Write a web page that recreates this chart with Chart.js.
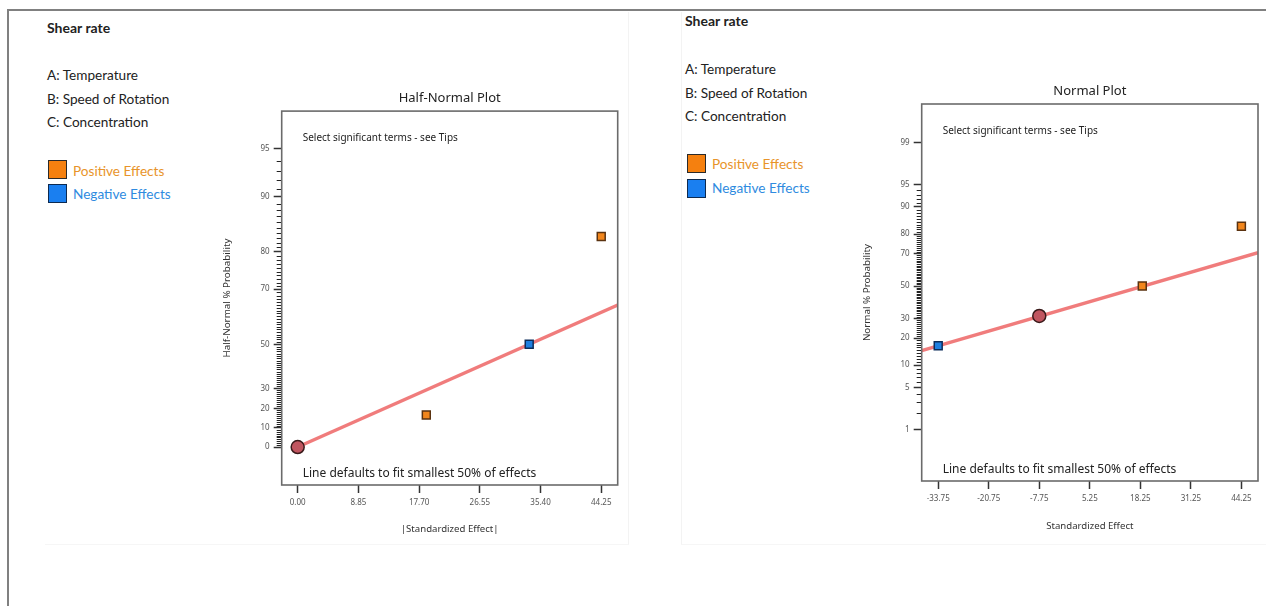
<!DOCTYPE html>
<html>
<head>
<meta charset="utf-8">
<script src="https://cdn.jsdelivr.net/npm/chart.js@4/dist/chart.umd.min.js"></script>
<style>
  body { margin: 0; background: #fff; width: 1266px; height: 606px; position: relative; overflow: hidden; font-family: Lato, "Noto Sans", sans-serif; color: #222; }
  .frameTop { position: absolute; left: 7px; top: 9px; width: 1259px; height: 2px; background: #808080; }
  .frameLeft { position: absolute; left: 7px; top: 9px; width: 2px; height: 597px; background: #808080; }
  .panel { position: absolute; border-right: 1px solid #f3f3f3; border-bottom: 1px solid #f6f6f6; }
  .txt { position: absolute; font-size: 13.6px; white-space: nowrap; line-height: 16px; }
  .bold { font-weight: bold; font-size: 14px; }
  .sw { position: absolute; width: 17px; height: 17px; border: 1.5px solid #2a2a2a; }
  canvas { position: absolute; }
</style>
</head>
<body>
<div class="frameTop"></div>
<div class="frameLeft"></div>
<div class="panel" style="left:45px; top:12px; width:583px; height:532px;"></div>
<div class="panel" style="left:681px; top:12px; width:584px; height:532px; border-left:1px solid #f3f3f3;"></div>

<div class="txt bold" style="left:47px; top:20px;">Shear rate</div>
<div class="txt" style="left:47px; top:67px;">A: Temperature</div>
<div class="txt" style="left:47px; top:91px;">B: Speed of Rotation</div>
<div class="txt" style="left:47px; top:114px;">C: Concentration</div>
<div class="sw" style="left:48px; top:160px; background:#f5800f;"></div>
<div class="sw" style="left:48px; top:184px; background:#1a7ff0; border-color:#0d2a50;"></div>
<div class="txt" style="left:73px; top:163px; color:#e8942a;">Positive Effects</div>
<div class="txt" style="left:73px; top:186px; color:#2f8be0;">Negative Effects</div>

<div class="txt bold" style="left:685px; top:13px;">Shear rate</div>
<div class="txt" style="left:685px; top:61px;">A: Temperature</div>
<div class="txt" style="left:685px; top:85px;">B: Speed of Rotation</div>
<div class="txt" style="left:685px; top:108px;">C: Concentration</div>
<div class="sw" style="left:687px; top:154px; background:#f5800f;"></div>
<div class="sw" style="left:687px; top:179px; background:#1a7ff0; border-color:#0d2a50;"></div>
<div class="txt" style="left:712px; top:156px; color:#e8942a;">Positive Effects</div>
<div class="txt" style="left:712px; top:180px; color:#2f8be0;">Negative Effects</div>

<canvas id="half" width="440" height="470" style="left:200px; top:80px;"></canvas>
<canvas id="normal" width="426" height="470" style="left:840px; top:80px;"></canvas>

<script>
// half-normal plot
const halfEffect = [18.75, 33.75, 44.25];
const halfProb = [16.67, 50, 83.33];
const halfSign = ['+', '-', '+'];
const halfAnchorX = [0];
const halfAnchorP = [0];
const halfLineX = [0, 46.65];
const halfLineP = [0, 64.9];
const halfYTicks = [0, 10, 20, 30, 50, 70, 80, 90, 95];
const halfXTicks = [0, 8.85, 17.70, 26.55, 35.40, 44.25];

// normal plot
const normalEffect = [-33.75, 18.75, 44.25];
const normalProb = [16.67, 50, 83.33];
const normalSign = ['-', '+', '+'];
const normalAnchorX = [-7.75];
const normalAnchorP = [31.4];
const normalLineX = [-38.0, 48.52];
const normalLineP = [14.76, 70.5];
const normalYTicks = [1, 5, 10, 20, 30, 50, 70, 80, 90, 95, 99];
const normalXTicks = [-33.75, -20.75, -7.75, 5.25, 18.25, 31.25, 44.25];

const tipText = 'Select significant terms - see Tips';
const noteText = 'Line defaults to fit smallest 50% of effects';

function qnorm(p) {
  const a = [-3.969683028665376e+01, 2.209460984245205e+02, -2.759285104469687e+02, 1.383577518672690e+02, -3.066479806614716e+01, 2.506628277459239e+00];
  const b = [-5.447609879822406e+01, 1.615858368580409e+02, -1.556989798598866e+02, 6.680131188771972e+01, -1.328068155288572e+01];
  const c = [-7.784894002430293e-03, -3.223964580411365e-01, -2.400758277161838e+00, -2.549732539343734e+00, 4.374664141464968e+00, 2.938163982698783e+00];
  const d = [7.784695709041462e-03, 3.224671290700398e-01, 2.445134137142996e+00, 3.754408661907416e+00];
  const pl = 0.02425;
  if (p < pl) {
    const q = Math.sqrt(-2 * Math.log(p));
    return (((((c[0]*q+c[1])*q+c[2])*q+c[3])*q+c[4])*q+c[5]) / ((((d[0]*q+d[1])*q+d[2])*q+d[3])*q+1);
  }
  if (p > 1 - pl) {
    const q = Math.sqrt(-2 * Math.log(1 - p));
    return -(((((c[0]*q+c[1])*q+c[2])*q+c[3])*q+c[4])*q+c[5]) / ((((d[0]*q+d[1])*q+d[2])*q+d[3])*q+1);
  }
  const q = p - 0.5, r = q * q;
  return (((((a[0]*r+a[1])*r+a[2])*r+a[3])*r+a[4])*r+a[5])*q / (((((b[0]*r+b[1])*r+b[2])*r+b[3])*r+b[4])*r+1);
}
const zHalf = pct => qnorm(0.5 + pct / 200);
const zNorm = pct => qnorm(pct / 100);

const ORANGE = '#f2861c', ORANGE_B = '#5a3210';
const BLUE = '#1f7fe0', BLUE_B = '#0d2d5a';

function minorList(lo, hi, majors) {
  const out = [];
  for (let p = lo; p <= hi; p++) if (majors.indexOf(p) < 0) out.push(p);
  return out;
}

const framePlugin = {
  id: 'framePlugin',
  afterDraw(chart, args, opts) {
    const ctx = chart.ctx, a = chart.chartArea, ys = chart.scales.y;
    ctx.save();
    ctx.strokeStyle = '#222';
    ctx.lineWidth = 1;
    opts.minor.forEach(p => {
      const y = Math.round(ys.getPixelForValue(opts.toZ(p))) + 0.5;
      ctx.beginPath();
      ctx.moveTo(a.left - 5, y);
      ctx.lineTo(a.left, y);
      ctx.stroke();
    });
    ctx.strokeStyle = '#6b6b6b';
    ctx.lineWidth = 1.6;
    ctx.strokeRect(a.left, a.top, a.right - a.left, a.bottom - a.top);
    ctx.fillStyle = '#222';
    ctx.textBaseline = 'middle';
    ctx.font = '10px "Noto Sans", sans-serif';
    ctx.fillText(tipText, a.left + 21, a.top + 27);
    ctx.font = '12px "Noto Sans", sans-serif';
    ctx.fillText(noteText, a.left + 21, a.bottom - 11);
    ctx.restore();
  }
};

function pts(xs, ps, toZ) {
  return xs.map((x, i) => ({ x: x, y: toZ(ps[i]) }));
}

function makeChart(id, cfg) {
  const signed = s => cfg.effect.map((x, i) => ({ x: x, y: cfg.toZ(cfg.prob[i]), s: cfg.sign[i] })).filter(d => d.s === s);
  return new Chart(document.getElementById(id), {
    type: 'scatter',
    data: {
      datasets: [{
        label: 'Positive Effects',
        data: signed('+'),
        pointStyle: 'rect',
        pointRadius: 5.6,
        backgroundColor: ORANGE,
        borderColor: ORANGE_B,
        borderWidth: 1.5,
        order: 1
      }, {
        label: 'Negative Effects',
        data: signed('-'),
        pointStyle: 'rect',
        pointRadius: 5.6,
        backgroundColor: BLUE,
        borderColor: BLUE_B,
        borderWidth: 1.5,
        order: 1
      }, {
        label: 'anchor',
        data: pts(cfg.anchorX, cfg.anchorP, cfg.toZ),
        pointStyle: 'circle',
        pointRadius: 6.5,
        backgroundColor: '#c0555f',
        borderColor: '#3a1a1a',
        borderWidth: 1.5,
        order: 1
      }, {
        label: 'fit',
        data: pts(cfg.lineX, cfg.lineP, cfg.toZ),
        showLine: true,
        pointRadius: 0,
        borderColor: 'rgba(238,110,110,0.9)',
        borderWidth: 3.5,
        order: 2
      }]
    },
    options: {
      responsive: false,
      animation: false,
      events: [],
      layout: { padding: cfg.pad },
      plugins: {
        legend: { display: false },
        tooltip: { enabled: false },
        title: {
          display: true,
          text: cfg.title,
          fullSize: false,
          color: '#222',
          font: { family: '"Noto Sans", sans-serif', size: 13, weight: 'normal' },
          padding: cfg.titlePad
        },
        framePlugin: { minor: cfg.minor, toZ: cfg.toZ }
      },
      scales: {
        x: {
          type: 'linear',
          min: cfg.xMin,
          max: cfg.xMax,
          afterBuildTicks: s => { s.ticks = cfg.xTicks.map(v => ({ value: v })); },
          afterFit: s => { s.height = cfg.xH; },
          ticks: {
            callback: (v, i) => cfg.xTicks[i].toFixed(2),
            color: '#555',
            font: { family: '"Noto Sans", sans-serif', size: 8 },
            padding: cfg.xTickPad,
            maxRotation: 0,
            autoSkip: false
          },
          grid: { drawOnChartArea: false, drawTicks: true, tickLength: 8, tickColor: '#333', tickWidth: 1.5 },
          border: { display: false },
          title: {
            display: true,
            text: cfg.xTitle,
            color: '#333',
            font: { family: '"Noto Sans", sans-serif', size: 9.6 },
            padding: 0
          }
        },
        y: {
          type: 'linear',
          min: cfg.yMin,
          max: cfg.yMax,
          afterBuildTicks: s => { s.ticks = cfg.yTicks.map(p => ({ value: cfg.toZ(p) })); },
          afterFit: s => { s.width = cfg.yW; },
          ticks: {
            callback: (v, i) => String(cfg.yTicks[i]),
            color: '#555',
            font: { family: '"Noto Sans", sans-serif', size: 8 },
            padding: 4,
            autoSkip: false
          },
          grid: { drawOnChartArea: false, drawTicks: true, tickLength: 8, tickColor: '#333', tickWidth: 1.5 },
          border: { display: false },
          title: {
            display: true,
            text: cfg.yTitle,
            color: '#333',
            font: { family: '"Noto Sans", sans-serif', size: 9.8 },
            padding: 0
          }
        }
      }
    },
    plugins: [framePlugin]
  });
}

makeChart('half', {
  title: 'Half-Normal Plot',
  effect: halfEffect, prob: halfProb, sign: halfSign,
  anchorX: halfAnchorX, anchorP: halfAnchorP,
  lineX: halfLineX, lineP: halfLineP,
  toZ: zHalf,
  xTicks: halfXTicks, yTicks: halfYTicks,
  minor: minorList(1, 94, halfYTicks),
  xMin: -2.33, xMax: 46.65, yMin: -0.2495, yMax: 2.206,
  xTitle: '|Standardized Effect|', yTitle: 'Half-Normal % Probability',
  pad: { left: 21, right: 22.3, top: 10, bottom: 14.6 },
  titlePad: { top: 0.5, bottom: 5 },
  xH: 50.4, yW: 60.7, xTickPad: 5
});

makeChart('normal', {
  title: 'Normal Plot',
  effect: normalEffect, prob: normalProb, sign: normalSign,
  anchorX: normalAnchorX, anchorP: normalAnchorP,
  lineX: normalLineX, lineP: normalLineP,
  toZ: zNorm,
  xTicks: normalXTicks, yTicks: normalYTicks,
  minor: minorList(2, 94, normalYTicks),
  xMin: -38.0, xMax: 48.52, yMin: -3.156, yMax: 2.946,
  xTitle: 'Standardized Effect', yTitle: 'Normal % Probability',
  pad: { left: 21.3, right: 6, top: 3.9, bottom: 17.9 },
  titlePad: { top: 0, bottom: 4.5 },
  xH: 51.1, yW: 60.4, xTickPad: 4.5
});
</script>
</body>
</html>
